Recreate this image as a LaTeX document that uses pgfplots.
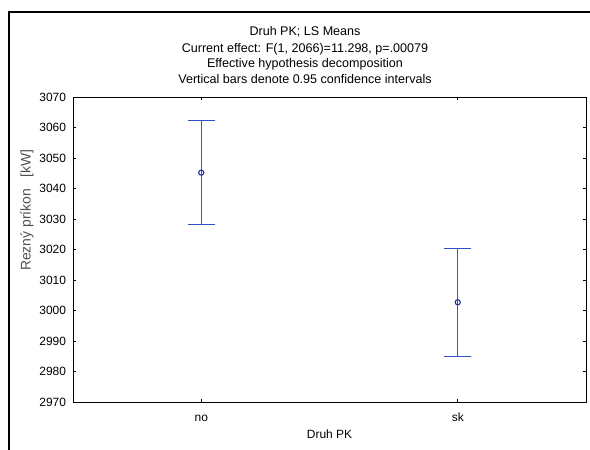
\documentclass[border=0pt]{standalone}
\usepackage{fontspec}
\setmainfont{Liberation Sans}
\usepackage{pgfplots}
\pgfplotsset{compat=1.18}
\definecolor{capblue}{HTML}{3050C8}
\definecolor{stemcol}{HTML}{4A5A90}
\definecolor{mkblue}{HTML}{2233A0}
\definecolor{lblgrey}{HTML}{505050}
\begin{document}
\begin{tikzpicture}
\useasboundingbox (-73bp,-48bp) rectangle (517bp,402bp);
\fill[white] (-73bp,-48bp) rectangle (517bp,402bp);
\begin{axis}[
  scale only axis,
  width=513bp, height=305bp,
  xmin=-0.5, xmax=1.5,
  ymin=2970, ymax=3070,
  xtick=data,
  xticklabels={no,sk},
  ytick={2970,2980,...,3070},
  major tick length=3bp,
  tick style={black, line width=0.6bp},
  axis line style={black, line width=0.9bp},
  /pgf/number format/assume math mode=true,
  /pgf/number format/1000 sep={},
  tick label style={font=\fontsize{12}{14}\selectfont},
  xticklabel style={anchor=base, yshift=-19.5bp},
  yticklabel style={xshift=-3.5bp},
  clip=false,
]
\addplot[
  only marks,
  mark=o,
  mark size=2.6bp,
  mark options={draw=mkblue, line width=1.1bp, fill=white},
  error bars/.cd,
    y dir=both, y explicit,
    error bar style={stemcol, line width=0.6bp},
    error mark options={rotate=90, capblue, mark size=13.5bp, line width=1.2bp},
] coordinates {
  (0,3045.2) +- (0,17.1)
  (1,3002.7) +- (0,17.7)
};
\end{axis}
% outer frame
\draw[black, line width=1.3bp] (-64bp,-48bp) -- (-64bp,390bp) -- (517bp,390bp);
% titles
\begin{scope}[every node/.style={font=\fontsize{12.6}{14}\selectfont, inner sep=0pt}]
\node at (232bp,370.5bp) {Druh PK; LS Means};
\node at (232bp,353bp) {Current effect: F(1, 2066)=11.298, p=.00079};
\node at (232bp,338bp) {Effective hypothesis decomposition};
\node at (232bp,322.5bp) {Vertical bars denote 0.95 confidence intervals};
\end{scope}
\node[anchor=base, inner sep=0pt, font=\fontsize{12}{14}\selectfont] at (256.5bp,-36bp) {Druh PK};
\node[rotate=90, inner sep=0pt, text=lblgrey, font=\fontsize{14}{16}\selectfont] at (-46bp,192bp) {Rezný príkon\ \ \ [kW]};
\end{tikzpicture}
\end{document}
